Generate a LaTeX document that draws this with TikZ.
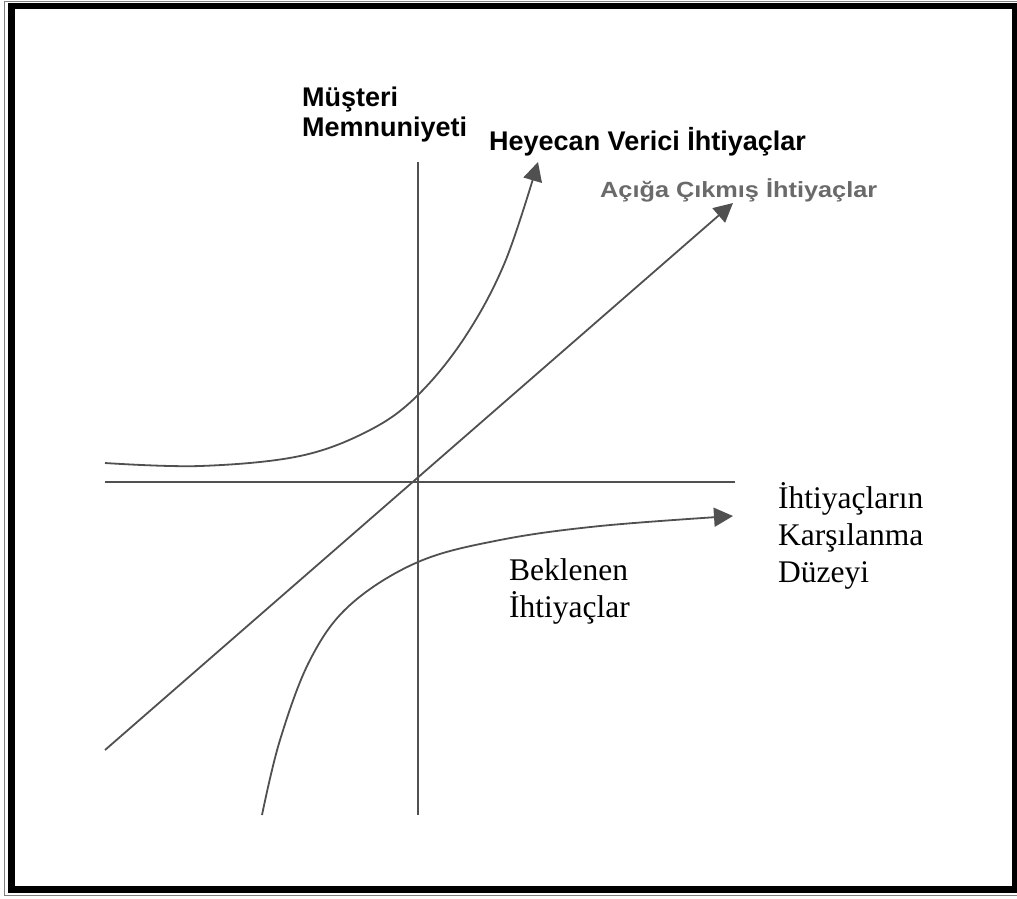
\documentclass[tikz,border=0pt]{standalone}
\usepackage{fontspec}
\setmainfont{Liberation Serif}
\setsansfont{Liberation Sans}
\usetikzlibrary{arrows.meta}
\definecolor{linegray}{HTML}{505050}
\definecolor{labelgray}{HTML}{6A6A6A}
\begin{document}
\begin{tikzpicture}[x=1pt,y=-1pt,
  axisline/.style={draw=linegray, line width=1.6pt},
  curveline/.style={draw=linegray, line width=1.8pt, -{Triangle[length=19pt,width=19pt]}},
  boldlabel/.style={font=\sffamily\bfseries\fontsize{27}{30}\selectfont, inner sep=0pt, align=left},
  seriflabel/.style={font=\rmfamily\fontsize{31.5}{37}\selectfont, inner sep=0pt, align=left}]
\useasboundingbox (0,0) rectangle (1017,898);
\begin{scope}
\clip (0,0) rectangle (1017,898);
\fill[white] (0,0) rectangle (1017,898);
\draw[gray, line width=1pt] (4.5,1.5) rectangle (1030,895.5);
\draw[black, line width=6.5pt] (11.5,6) rectangle (1015,889.5);
\end{scope}
% axes
\coordinate (O) at (418,482);
\coordinate (xs) at (105,482);
\coordinate (xe) at (735,482);
\coordinate (ys) at (418,162);
\coordinate (ye) at (418,815);
\draw[axisline] (xs) -- (xe);
\draw[axisline] (ys) -- (ye);
% diagonal
\coordinate (ds) at (105,750);
\coordinate (de) at (733,203);
\draw[curveline] (ds) -- (de);
% upper curve
\draw[curveline] plot[smooth, tension=0.6] coordinates {(105,463) (200,466) (300,456) (370,430) (418,395) (465,337) (505,262) (538,162)};
% lower curve
\draw[curveline] plot[smooth, tension=0.6] coordinates {(262,815) (280,740) (310,660) (350,605) (418,562) (500,540) (600,526) (733,516)};
% labels
\node[boldlabel, anchor=base west] (mm) at (302,136) {Müşteri\\Memnuniyeti};
\node[boldlabel, anchor=base west] (hv) at (489,150) {Heyecan Verici İhtiyaçlar};
\node[font=\sffamily\bfseries\fontsize{22}{25}\selectfont, text=labelgray, inner sep=0pt, anchor=base west] (ac) at (600,197) {\scalebox{1.15}[1]{Açığa Çıkmış İhtiyaçlar}};
\node[seriflabel, anchor=base west] (ik) at (778,582) {İhtiyaçların\\Karşılanma\\Düzeyi};
\node[seriflabel, anchor=base west] (bi) at (509,617) {Beklenen\\İhtiyaçlar};
\end{tikzpicture}
\end{document}
